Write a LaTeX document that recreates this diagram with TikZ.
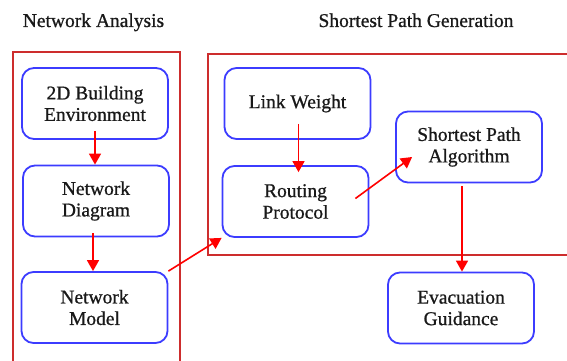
\documentclass[tikz,border=0pt]{standalone}
\usepackage{fontspec}
\setmainfont{Liberation Serif}
\newfontfamily\diagserif[FakeBold=0.8]{Liberation Serif}
\usetikzlibrary{arrows.meta,calc}
\definecolor{boxblue}{RGB}{60,60,255}
\definecolor{framered}{RGB}{205,45,45}
\definecolor{arrred}{RGB}{255,0,0}
\definecolor{txt}{RGB}{25,25,25}
\tikzset{
  stepbox/.style={draw=boxblue, line width=1.8pt, rounded corners=12pt,
    minimum width=146pt, minimum height=71pt, align=center,
    font=\diagserif\fontsize{19.5}{21.5}\selectfont, text=txt, inner sep=0pt},
  frame/.style={draw=framered, line width=1.5pt},
  arr/.style={draw=arrred, line width=1.6pt, -{Triangle[length=11pt,width=12pt]}},
  title/.style={font=\diagserif\fontsize{19.5}{21.5}\selectfont, text=txt, anchor=base}
}
\begin{document}
\begin{tikzpicture}[x=1pt,y=-1pt]
\useasboundingbox (0,0) rectangle (567,361);
\fill[white] (0,0) rectangle (567,361);
% titles
\node[title] (t1) at (93.5,27) {Network Analysis};
\node[title] (t2) at (416,27) {Shortest Path Generation};
% frames
\draw[frame] (13,362) -- (13,52) -- (180,52) -- (180,362);
\draw[frame] (568,54) -- (208,54) -- (208,255) -- (568,255);
% boxes
\node[stepbox] (env) at (95,103.5) {2D Building\\Environment};
\node[stepbox] (diag) at (96,201) {Network\\Diagram};
\node[stepbox] (model) at (94.5,307.5) {Network\\Model};
\node[stepbox] (link) at (297.5,103.5) {Link Weight};
\node[stepbox] (rout) at (295.5,201.5) {Routing\\Protocol};
\node[stepbox] (spa) at (469,147) {Shortest Path\\Algorithm};
\node[stepbox] (evac) at (461,308) {Evacuation\\Guidance};
% connectors
\draw[arr, shorten <=-9pt] (env.south) -- (env.south |- diag.north);
\draw[arr, shorten <=-4pt] ([xshift=-3pt]diag.south) -- ([xshift=-3pt]diag.south |- model.north);
\draw[arr] (model.north east) -- (rout.south west);
\draw[arr, shorten <=-16pt, shorten >=-7pt] ([xshift=1pt]link.south) -- ([xshift=1pt]link.south |- rout.north);
\draw[arr] ($(rout.east)+(-14,-3)$) -- ($(spa.west)+(17,10)$);
\draw[arr, shorten <=3pt] ([xshift=-7pt]spa.south) -- ([xshift=-7pt]spa.south |- evac.north);
\end{tikzpicture}
\end{document}
